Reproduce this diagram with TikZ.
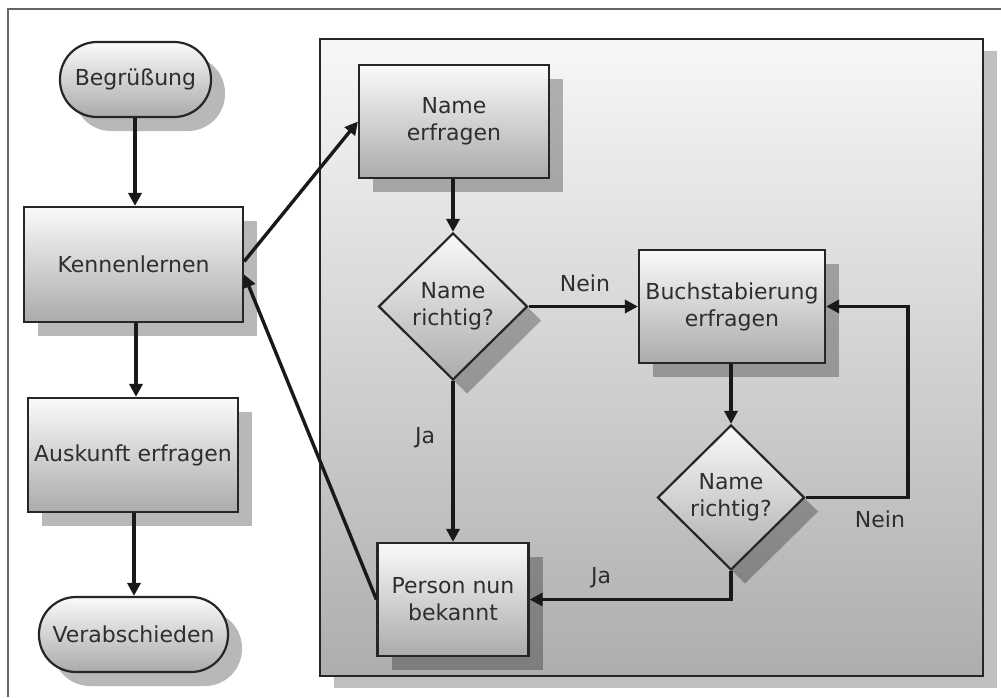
\documentclass[tikz,border=0pt]{standalone}
\usepackage{fontspec}
\setmainfont{DejaVu Sans}
\usetikzlibrary{shapes.geometric,arrows.meta,shadows,calc}

\begin{document}
\begin{tikzpicture}[x=1pt,y=-1pt,
  every node/.style={font=\fontsize{22}{27}\selectfont, text=black!82},
  shadowed/.style={drop shadow={shadow xshift=14pt, shadow yshift=-14pt, fill=black, opacity=0.28}},
  shapebase/.style={draw=black!85, line width=2.2pt, top color=black!2, bottom color=black!33,
    inner sep=0pt, align=center, shadowed},
  box/.style={shapebase, rectangle},
  terminal/.style={shapebase, rectangle, rounded corners=37pt},
  decision/.style={shapebase, diamond},
  panelbox/.style={rectangle, draw=black!85, line width=2.3pt, top color=black!3, bottom color=black!32,
    inner sep=0pt, drop shadow={shadow xshift=14pt, shadow yshift=-12pt, fill=black, opacity=0.25}},
  flow/.style={draw=black!90, line width=3.4pt, -{Triangle[length=13pt,width=13pt]}},
  lbl/.style={text=black!82}
]
\useasboundingbox (0,0) rectangle (1001,697);

% page frame
\draw[black!60, line width=1.6pt] (8,697) -- (8,9) -- (1001,9);

% sub-process panel
\node[panelbox, minimum width=663pt, minimum height=637pt] (panel) at (651.5,357.5) {};

% main flow
\node[terminal, minimum width=151pt, minimum height=75pt] (beg) at (135.5,79.5) {Begrüßung};
\node[box, minimum width=219pt, minimum height=115pt] (ken) at (133.5,264.5) {Kennenlernen};
\node[box, minimum width=210pt, minimum height=114pt] (ausk) at (133,455) {Auskunft erfragen};
\node[terminal, minimum width=189pt, minimum height=75pt] (verab) at (133.5,634.5) {Verabschieden};

% name dialogue
\node[box, minimum width=190pt, minimum height=113pt] (name) at (454,121.5) {Name\\erfragen};
\node[decision, minimum width=149pt, minimum height=147pt] (d1) at (453,306.5) {Name\\richtig?};
\node[box, minimum width=186pt, minimum height=113pt] (buch) at (732,306.5) {Buchstabierung\\erfragen};
\node[decision, minimum width=147pt, minimum height=145pt] (d2) at (731,497.5) {Name\\richtig?};
\node[box, minimum width=151pt, minimum height=113pt] (pers) at (453,599.5) {Person nun\\bekannt};

\coordinate (loop) at (908,0);

% connectors
\draw[flow] (beg.south -| 135,0) -- (ken.north -| 135,0);
\draw[flow] (ken.south -| 136,0) -- (ausk.north -| 136,0);
\draw[flow] (ausk.south -| 134,0) -- (verab.north -| 134,0);
\draw[flow] ([yshift=3pt]ken.east) -- (name.west);
\draw[flow] (pers.west) -- ([yshift=-10pt]ken.east);
\draw[flow] (name.south -| d1.north) -- (d1.north);
\draw[flow] (d1.east) -- (buch.west);
\draw[flow] (d1.south) -- (pers.north);
\draw[flow] (buch.south -| d2.north) -- (d2.north);
\draw[flow] (d2.east) -- (d2.east -| loop) |- (buch.east);
\draw[flow] (d2.south) |- (pers.east);

% branch labels
\node[lbl] (n1) at (585,283) {Nein};
\node[lbl] (j1) at (425,438) {Ja};
\node[lbl] (n2) at (880,519) {Nein};
\node[lbl] (j2) at (601,578) {Ja};
\end{tikzpicture}
\end{document}
